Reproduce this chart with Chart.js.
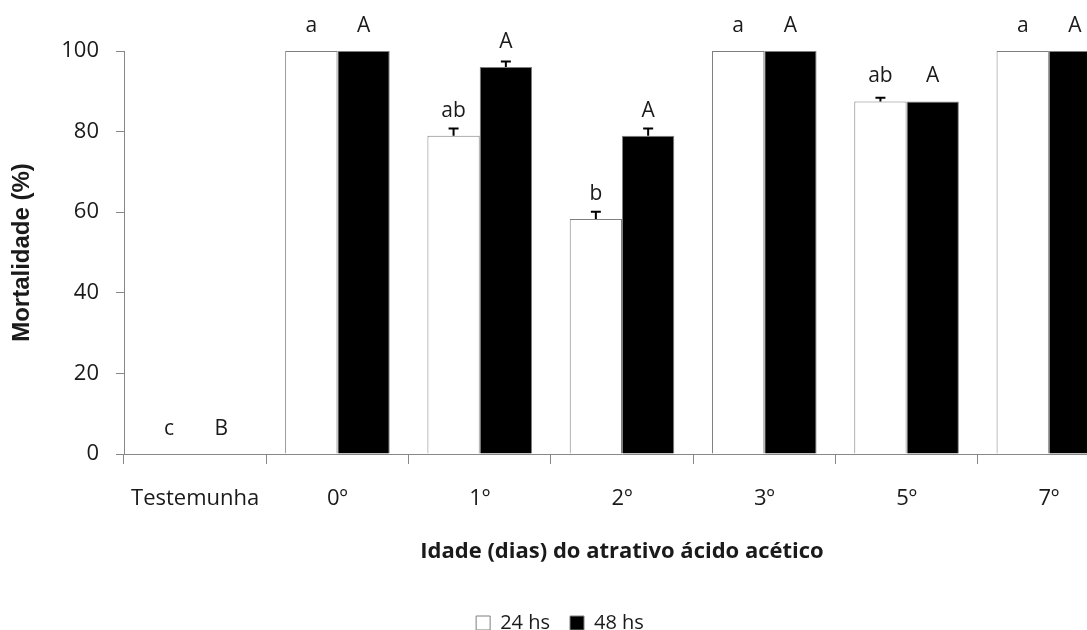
<!DOCTYPE html>
<html>
<head>
<meta charset="utf-8">
<script src="https://cdn.jsdelivr.net/npm/chart.js@4.4.1/dist/chart.umd.min.js"></script>
<style>
  html, body { margin: 0; padding: 0; background: #fff; overflow: hidden; }
  #wrap { width: 1130px; height: 630px; position: relative; }
</style>
</head>
<body>
<div id="wrap"><canvas id="mortChart"></canvas></div>
<script>
// data
const categories = ['Testemunha', '0º', '1º', '2º', '3º', '5º', '7º'];
const mort24 = [0, 100, 79, 58.3, 100, 87.5, 100];
const mort48 = [0, 100, 96, 79, 100, 87.5, 100];
const err24 = [0, 0, 1.8, 1.8, 0, 0.9, 0];
const err48 = [0, 0, 1.4, 1.8, 0, 0, 0];
const letters24 = ['c', 'a', 'ab', 'b', 'a', 'ab', 'a'];
const letters48 = ['B', 'A', 'A', 'A', 'A', 'A', 'A'];
const yTicks = [0, 20, 40, 60, 80, 100];

const errors = [err24, err48];
const letters = [letters24, letters48];

// Error bars (upper only) and significance letters
const barExtras = {
  id: 'barExtras',
  afterDatasetsDraw(chart) {
    const ctx = chart.ctx;
    const yScale = chart.scales.y;
    ctx.save();
    chart.data.datasets.forEach((ds, di) => {
      const meta = chart.getDatasetMeta(di);
      meta.data.forEach((bar, i) => {
        const err = errors[di][i];
        if (err > 0) {
          const yTop = yScale.getPixelForValue(ds.data[i] + err);
          ctx.strokeStyle = '#000';
          ctx.lineWidth = 2;
          ctx.beginPath();
          ctx.moveTo(bar.x, bar.y);
          ctx.lineTo(bar.x, yTop);
          ctx.moveTo(bar.x - 5, yTop);
          ctx.lineTo(bar.x + 5, yTop);
          ctx.stroke();
        }
        ctx.fillStyle = '#1a1a1a';
        ctx.font = '21px "Open Sans"';
        ctx.textAlign = 'center';
        ctx.textBaseline = 'middle';
        ctx.fillText(letters[di][i], bar.x, bar.y - 25);
      });
    });
    ctx.restore();
  }
};

const ctx = document.getElementById('mortChart').getContext('2d');
const mortChart = new Chart(ctx, {
  type: 'bar',
  data: {
    labels: categories,
    datasets: [{
      label: '24 hs',
      data: mort24,
      backgroundColor: '#ffffff',
      borderColor: '#7f7f7f',
      borderWidth: 1
    }, {
      label: '48 hs',
      data: mort48,
      backgroundColor: '#000000',
      borderColor: '#7f7f7f',
      borderWidth: 1
    }]
  },
  options: {
    responsive: true,
    maintainAspectRatio: false,
    animation: false,
    layout: { padding: { top: 51, right: 10, left: 0, bottom: -13 } },
    datasets: { bar: { barPercentage: 1, categoryPercentage: 0.735 } },
    plugins: {
      tooltip: { enabled: false },
      legend: {
        position: 'bottom',
        labels: {
          boxWidth: 14,
          boxHeight: 14,
          padding: 20,
          color: '#1a1a1a',
          font: { family: 'Open Sans', size: 20 }
        }
      }
    },
    scales: {
      x: {
        afterFit: function (scale) { scale.height = 139; },
        grid: { display: true, offset: true, drawOnChartArea: false, tickLength: 10, color: '#888' },
        border: { display: true, color: '#888' },
        ticks: {
          autoSkip: false, maxRotation: 0, padding: 22,
          color: '#1a1a1a',
          font: { family: 'Open Sans', size: 22 }
        },
        title: {
          display: true,
          text: 'Idade (dias) do atrativo ácido acético',
          color: '#1a1a1a',
          font: { family: 'Open Sans', size: 22, weight: 'bold' },
          padding: { top: 0, bottom: 28 }
        }
      },
      y: {
        min: 0,
        max: 100,
        afterFit: function (scale) { scale.width = 124; },
        afterBuildTicks: function (scale) { scale.ticks = yTicks.map(v => ({ value: v })); },
        grid: { display: true, drawOnChartArea: false, tickLength: 8, color: '#888' },
        border: { display: true, color: '#888' },
        ticks: {
          padding: 17,
          color: '#1a1a1a',
          font: { family: 'Open Sans', size: 22 }
        },
        title: {
          display: true,
          text: 'Mortalidade (%)',
          color: '#1a1a1a',
          font: { family: 'Liberation Sans', size: 24, weight: 'bold' },
          padding: { top: 8, bottom: 0 }
        }
      }
    }
  },
  plugins: [barExtras]
});
</script>
</body>
</html>
